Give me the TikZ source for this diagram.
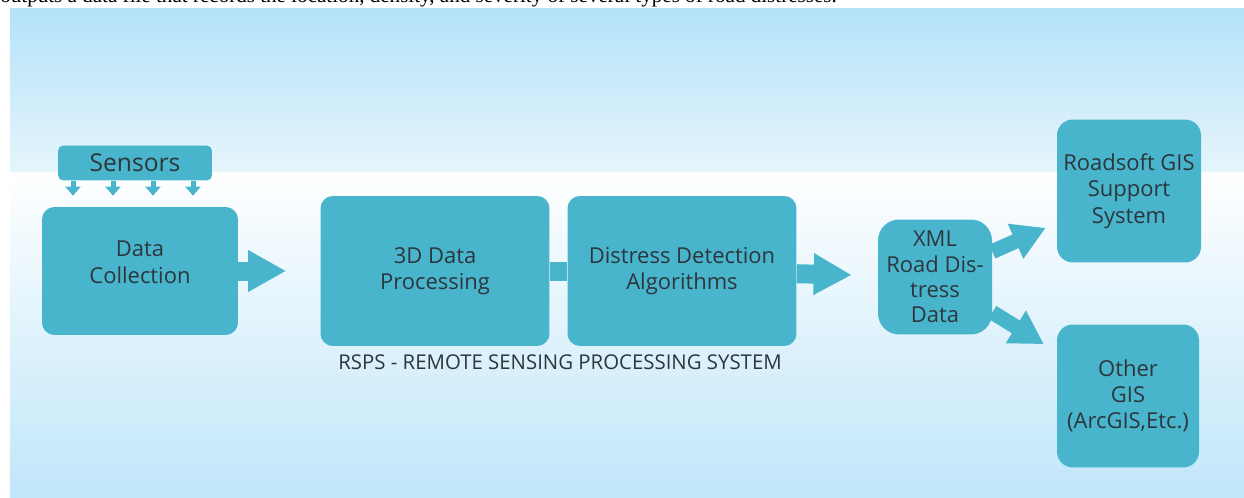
\documentclass[tikz,border=0pt]{standalone}
\usepackage{fontspec}
\setmainfont{Open Sans}
\newfontfamily\docserif{Liberation Serif}
\usepackage{xcolor}
\usepackage{tikz}
\usetikzlibrary{arrows.meta,positioning}

\definecolor{boxfill}{RGB}{73,181,204}
\definecolor{boxtext}{RGB}{45,54,60}
\definecolor{skytop}{RGB}{180,226,248}
\definecolor{skymid}{RGB}{230,245,252}
\definecolor{skybot}{RGB}{192,230,249}

\begin{document}
\begin{tikzpicture}[
  x=0.02cm, y=0.02cm,
  font=\fontsize{12.5}{15}\selectfont,
  blk/.style={fill=boxfill, text=boxtext, rounded corners=7pt, align=center, inner sep=2pt},
  fat/.style={draw=boxfill, line width=0.38cm, -{Triangle[length=0.76cm, width=0.78cm]}},
  slim/.style={draw=boxfill, line width=0.30cm, -{Triangle[length=0.66cm, width=0.72cm]}},
  pin/.style={draw=boxfill, line width=0.10cm, -{Triangle[length=0.18cm, width=0.30cm]}}
]
\useasboundingbox (0,0) rectangle (1244,-497);
\clip (0,0) rectangle (1244,-497);

% backdrop
\fill[top color=skytop, bottom color=skymid] (10,-8) rectangle (1244,-172);
\fill[top color=white, middle color=white!82!skybot, bottom color=skybot] (10,-172) rectangle (1244,-497);
\node[anchor=base west, inner sep=0pt, font=\docserif\fontsize{12}{14}\selectfont] (cap) at (0,-3)
  {outputs a data file that records the location, density, and severity of several types of road distresses.};

% blocks
\node[blk, rounded corners=3pt, minimum width=3.08cm, minimum height=0.70cm,
  font=\fontsize{14}{16}\selectfont] (sen) at (135,-163) {Sensors};
\node[blk, text depth=10pt, minimum width=3.92cm, minimum height=2.56cm] (dc) at (140,-271) {Data\\Collection};
\node[blk, minimum width=4.58cm, minimum height=3.00cm] (p3d) at (435,-271) {3D Data\\Processing};
\node[blk, minimum width=4.58cm, minimum height=3.00cm] (dda) at (682,-271) {Distress Detection\\Algorithms};
\node[text=boxtext, font=\fontsize{11.6}{14}\selectfont] (rsps) at (560,-362) {RSPS - REMOTE SENSING PROCESSING SYSTEM};
\node[blk, rounded corners=12pt, minimum width=2.28cm, minimum height=2.30cm,
  font=\fontsize{12.5}{14.4}\selectfont] (xml) at (935,-277) {XML\\Road Dis-\\tress\\Data};
\node[blk, rounded corners=9pt, minimum width=2.88cm, minimum height=2.86cm] (rgis) at (1129,-191)
  {Roadsoft GIS\\Support\\System};
\node[blk, rounded corners=9pt, minimum width=2.84cm, minimum height=2.86cm] (ogis) at (1128,-396)
  {Other\\GIS\\(ArcGIS,Etc.)};

% arrows
\foreach \dx in {-62,-22,18,58}
  \draw[pin, shorten >=0.22cm] ([xshift=\dx*0.02cm]sen.south) -- ([xshift=\dx*0.02cm]sen.south |- dc.north);
\draw[fat, shorten >=0.68cm] (dc) -- (p3d);
\draw[draw=boxfill, line width=0.38cm] (p3d) -- (dda);
\draw[fat, shorten >=0.52cm] (dda) -- (xml);
\draw[slim, shorten >=0.24cm] (xml) -- (rgis);
\draw[slim, shorten >=0.30cm] (xml) -- (ogis);
\end{tikzpicture}
\end{document}
